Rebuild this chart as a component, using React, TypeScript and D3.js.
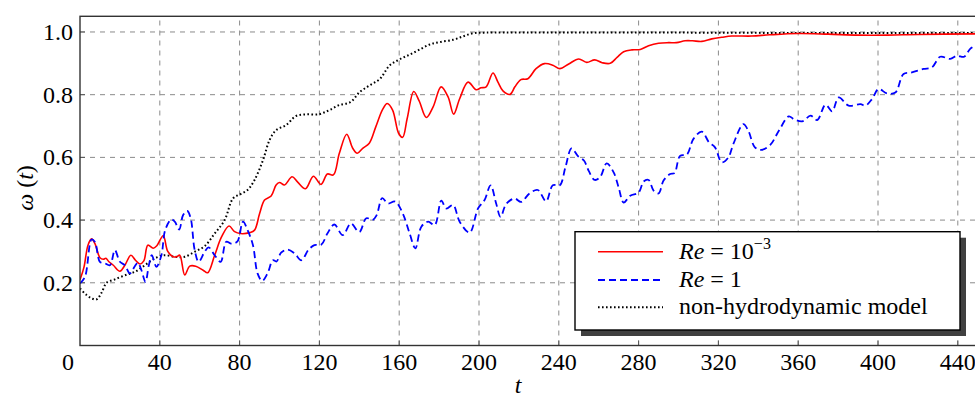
import React, { useEffect, useState } from "react";
import * as d3 from "d3";

// ---- data (t, ω) ----
const redSeries: [number, number][] = [
  [0, 0.21], [2, 0.25], [4, 0.32], [5.8, 0.34], [7.5, 0.325], [10, 0.28], [11.7, 0.275], [13, 0.278],
  [14.5, 0.267], [16.7, 0.256], [20, 0.237], [22.5, 0.256], [25.5, 0.288], [27.8, 0.272], [30, 0.26],
  [32, 0.27], [34, 0.32], [36.7, 0.31], [38.5, 0.318], [41.7, 0.35], [44, 0.3], [46.7, 0.283],
  [48.5, 0.283], [50, 0.288], [52.5, 0.225], [55, 0.253], [58, 0.253], [61.7, 0.24], [64, 0.232],
  [67.5, 0.288], [71, 0.347], [74.7, 0.381], [77.5, 0.363], [80.5, 0.357], [85, 0.36], [87.5, 0.368],
  [90, 0.42], [92.5, 0.464], [95.8, 0.477], [98.3, 0.512], [100, 0.52], [102.5, 0.512], [106.3, 0.538],
  [109, 0.522], [113, 0.5], [117, 0.54], [120.8, 0.514], [124, 0.547], [127, 0.544], [130, 0.613],
  [133.7, 0.674], [136.7, 0.629], [139, 0.613], [141.7, 0.629], [145, 0.645], [148.3, 0.698],
  [151.7, 0.753], [154, 0.772], [156.7, 0.751], [159.7, 0.677], [161.7, 0.664], [164, 0.724],
  [167.3, 0.81], [170, 0.78], [173.6, 0.727], [177, 0.761], [181, 0.825], [184.5, 0.793],
  [187.3, 0.738], [190.3, 0.787], [194.5, 0.84], [198.6, 0.816], [201, 0.822], [203.6, 0.825],
  [207, 0.869], [209.5, 0.84], [212, 0.812], [215.6, 0.801], [218, 0.825], [221, 0.848],
  [224.5, 0.851], [228.6, 0.883], [232.8, 0.899], [237, 0.894], [240.5, 0.883], [245, 0.898],
  [250, 0.914], [254, 0.903], [258, 0.911], [261.7, 0.902], [265.8, 0.9], [269.2, 0.919],
  [272.5, 0.937], [276.7, 0.943], [280.8, 0.944], [285, 0.956], [290, 0.964], [295, 0.966],
  [299, 0.966], [303.3, 0.972], [307, 0.972], [311.7, 0.97], [316.7, 0.978], [321.7, 0.983],
  [326.7, 0.987], [336.7, 0.987], [345.8, 0.991], [360, 0.995], [375, 0.993], [390, 0.99],
  [405, 0.99], [420, 0.992], [450, 0.994],
];

const blueSeries: [number, number][] = [
  [0, 0.198], [2.5, 0.219], [5.8, 0.338], [7.5, 0.33], [10, 0.267], [12.5, 0.262], [15, 0.256],
  [17.5, 0.304], [20, 0.267], [22.5, 0.256], [25, 0.23], [27.5, 0.253], [29, 0.264], [30.8, 0.24],
  [32.8, 0.203], [34.5, 0.256], [36, 0.288], [38.3, 0.251], [40.8, 0.288], [42.7, 0.368],
  [45.8, 0.402], [47.5, 0.395], [49.7, 0.37], [51.7, 0.416], [53.8, 0.429], [55.5, 0.405],
  [57.5, 0.304], [59.5, 0.267], [62.5, 0.299], [64.5, 0.313], [67.5, 0.288], [70.5, 0.267],
  [73.3, 0.331], [75.8, 0.325], [78.8, 0.331], [81.7, 0.395], [84, 0.368], [86.7, 0.32], [89, 0.23],
  [91.3, 0.206], [94, 0.23], [96.7, 0.272], [98.5, 0.268], [100.8, 0.296], [104, 0.306],
  [107.5, 0.294], [111, 0.272], [114.5, 0.305], [117.5, 0.32], [121, 0.322], [124, 0.357],
  [127.5, 0.386], [131.7, 0.352], [135.8, 0.389], [140, 0.362], [143.5, 0.406], [146.8, 0.401],
  [148.7, 0.416], [151.5, 0.47], [154.3, 0.453], [158, 0.459], [161.8, 0.421], [165.2, 0.358],
  [168.1, 0.31], [171.1, 0.379], [174.5, 0.395], [177.8, 0.384], [181.1, 0.462], [183.6, 0.437],
  [187, 0.448], [190.3, 0.395], [195.3, 0.36], [199.5, 0.437], [202.8, 0.464], [205.8, 0.511],
  [208.6, 0.453], [210.8, 0.41], [213.6, 0.451], [217.8, 0.469], [221.1, 0.458], [225.3, 0.485],
  [229.5, 0.496], [233.6, 0.46], [237, 0.511], [240.5, 0.511], [243.3, 0.568], [246.4, 0.629],
  [249.6, 0.604], [252.6, 0.59], [255, 0.557], [258, 0.528], [260.8, 0.538], [264, 0.581],
  [267.5, 0.552], [270, 0.504], [272.5, 0.456], [275.8, 0.478], [280, 0.488], [282.5, 0.523],
  [285, 0.528], [287.5, 0.494], [290, 0.485], [292.5, 0.526], [295.8, 0.547], [298, 0.55],
  [300.8, 0.605], [304.2, 0.609], [307.5, 0.659], [311.7, 0.682], [315.3, 0.648], [318.3, 0.632],
  [321.7, 0.584], [325, 0.6], [327.5, 0.643], [332.5, 0.706], [335, 0.685], [338.3, 0.632],
  [341.5, 0.624], [346, 0.64], [350.3, 0.685], [355.3, 0.731], [357.8, 0.722], [362, 0.715],
  [366.2, 0.733], [369.5, 0.719], [373.7, 0.768], [377, 0.747], [380.3, 0.791], [385.3, 0.765],
  [391.2, 0.77], [393.7, 0.765], [397, 0.786], [400.3, 0.818], [404.5, 0.804], [408.7, 0.807],
  [412.8, 0.866], [417, 0.871], [422.8, 0.882], [427, 0.887], [431.2, 0.921], [436.2, 0.914],
  [439.5, 0.924], [443.2, 0.921], [446.2, 0.946], [450, 0.96],
];

const blackSeries: [number, number][] = [
  [0, 0.182], [3.3, 0.161], [6, 0.15], [8.3, 0.147], [10.8, 0.168], [13.3, 0.2], [17.5, 0.211],
  [22.5, 0.224], [27.5, 0.235], [32.5, 0.256], [37.5, 0.278], [42.5, 0.288], [47.5, 0.283],
  [52.5, 0.283], [57.5, 0.299], [62.5, 0.317], [67.5, 0.357], [72.5, 0.4], [76.7, 0.469],
  [80.5, 0.483], [84, 0.496], [87.5, 0.528], [91.7, 0.591], [95, 0.655], [98.3, 0.687],
  [103.3, 0.703], [108.3, 0.732], [113.3, 0.737], [120, 0.738], [125, 0.751], [130, 0.767],
  [135.5, 0.776], [140.3, 0.809], [145.3, 0.83], [150.3, 0.85], [155.3, 0.894], [160.3, 0.913],
  [165.3, 0.928], [170.3, 0.944], [175.3, 0.96], [180.3, 0.968], [187, 0.975], [192, 0.986],
  [197, 0.996], [203.6, 0.998], [250, 0.998], [300, 0.998], [350, 0.997], [400, 0.997], [450, 0.997],
];

const xTicks = [0, 40, 80, 120, 160, 200, 240, 280, 320, 360, 400, 440];
const yTicks = [0.2, 0.4, 0.6, 0.8, 1.0];
const xDomain: [number, number] = [0, 450];
const yDomain: [number, number] = [0, 1.05];

const FONT = '"Liberation Serif", "Tinos", "Times New Roman", "FreeSerif"';
const CSS = `#chart text, #chart tspan { font-family: ${FONT} !important; }`;

export default function App() {
  const [tick, setTick] = useState(0);
  useEffect(() => {
    const f: any = (document as any).fonts;
    const done = () => setTick(1);
    if (f && f.load) f.load('24px "Liberation Serif"').then(done, done);
    else done();
  }, []);

  const W = 975, H = 400;
  const left = 80, top = 16.3, bottom = 345.5;
  const right = left + 450 * 1.995;
  const x = d3.scaleLinear().domain(xDomain).range([left, right]);
  const y = d3.scaleLinear().domain(yDomain).range([bottom, top]);
  const line = d3
    .line<[number, number]>()
    .x((d) => x(d[0]))
    .y((d) => y(d[1]))
    .curve(d3.curveCatmullRom.alpha(0.5));

  const lg = { x: 575, y: 231.7, w: 385, h: 98.3 };
  const rows = [251.7, 280, 307.3];
  const txt: React.CSSProperties = { fontFamily: FONT };

  return (
    <div style={{ position: "absolute", left: 0, top: 0, fontFamily: FONT }}>
      <style>{CSS}</style>
      <svg id="chart" key={tick} width={W} height={H} style={{ display: "block", fontFamily: FONT }}>
        <defs>
          <clipPath id="plotclip">
            <rect x={left} y={top} width={right - left} height={bottom - top} />
          </clipPath>
        </defs>
        <rect x={0} y={0} width={W} height={H} fill="#fff" />
        {/* grid */}
        <g stroke="#8a8a8a" strokeWidth={1} strokeDasharray="5,5">
          {xTicks.filter((t) => t > 0).map((t) => (
            <line key={"gx" + t} x1={x(t)} x2={x(t)} y1={bottom} y2={top} />
          ))}
          {yTicks.map((v) => (
            <line key={"gy" + v} x1={left} x2={right} y1={y(v)} y2={y(v)} />
          ))}
        </g>
        {/* ticks */}
        <g stroke="#555" strokeWidth={1}>
          {xTicks.filter((t) => t > 0).map((t) => (
            <line key={"tx" + t} x1={x(t)} x2={x(t)} y1={bottom} y2={bottom - 5} />
          ))}
          {yTicks.map((v) => (
            <line key={"ty" + v} x1={left} x2={left + 5} y1={y(v)} y2={y(v)} />
          ))}
        </g>
        {/* series */}
        <g clipPath="url(#plotclip)" fill="none">
          <path d={line(blackSeries) || ""} stroke="#000" strokeWidth={2} strokeDasharray="1.6,2.4" />
          <path d={line(redSeries) || ""} stroke="#ff0000" strokeWidth={1.6} />
          <path d={line(blueSeries) || ""} stroke="#0000ff" strokeWidth={1.8} strokeDasharray="7,4" />
        </g>
        {/* frame */}
        <rect x={left} y={top} width={right - left} height={bottom - top} fill="none" stroke="#333" strokeWidth={1.4} />
        {/* tick labels */}
        <g fill="#000">
          {xTicks.map((t) => (
            <text key={"lx" + t} style={txt} fontSize={24} x={t === 0 ? x(t) - 6 : x(t)} y={370} textAnchor={t === 0 ? "end" : "middle"}>
              {String(t)}
            </text>
          ))}
          {yTicks.map((v) => (
            <text key={"ly" + v} style={txt} fontSize={24} x={left - 7} y={y(v) + 8} textAnchor="end">
              {d3.format(".1f")(v)}
            </text>
          ))}
        </g>
        {/* axis titles */}
        <text style={txt} x={518} y={393} fontSize={24} fontStyle="italic" textAnchor="middle">t</text>
        <text style={txt} transform="translate(33,188) rotate(-90)" fontSize={24} textAnchor="middle">
          <tspan fontStyle="italic">ω</tspan>
          <tspan> (</tspan>
          <tspan fontStyle="italic">t</tspan>
          <tspan>)</tspan>
        </text>
        {/* legend */}
        <rect x={lg.x + 6} y={lg.y + 6} width={lg.w} height={lg.h} fill="#404040" />
        <rect x={lg.x} y={lg.y} width={lg.w} height={lg.h} fill="#fff" stroke="#000" strokeWidth={1.4} />
        <line x1={598} x2={663} y1={rows[0]} y2={rows[0]} stroke="#ff0000" strokeWidth={1.6} />
        <line x1={598} x2={663} y1={rows[1]} y2={rows[1]} stroke="#0000ff" strokeWidth={1.8} strokeDasharray="7,4" />
        <line x1={598} x2={663} y1={rows[2]} y2={rows[2]} stroke="#000" strokeWidth={2} strokeDasharray="1.6,2.4" />
        <g fill="#000">
          <text style={txt} fontSize={24} x={679} y={rows[0] + 7.5}>
            <tspan fontStyle="italic">Re</tspan>
            <tspan> = 10</tspan>
            <tspan fontSize={16} dy={-10}>−3</tspan>
          </text>
          <text style={txt} fontSize={24} x={679} y={rows[1] + 7}>
            <tspan fontStyle="italic">Re</tspan>
            <tspan> = 1</tspan>
          </text>
          <text style={txt} fontSize={24} x={679} y={rows[2] + 6.5}>non-hydrodynamic model</text>
        </g>
      </svg>
    </div>
  );
}
